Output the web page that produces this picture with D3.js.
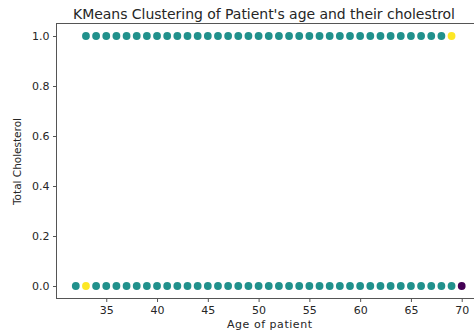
<!DOCTYPE html>
<html><head><meta charset="utf-8">
<script src="https://cdn.jsdelivr.net/npm/d3@7"></script>
<style>body{margin:0;background:#fff}svg{display:block}text{font-family:"DejaVu Sans",sans-serif}</style>
</head><body><svg id="c" width="474" height="333"></svg>
<script>
// Data: ages with total cholesterol (0/1) and cluster label
const topAges = [33,34,35,36,37,38,39,40,41,42,43,44,45,46,47,48,49,50,51,52,53,54,55,56,57,58,59,60,61,62,63,64,65,66,67,68,69];
const topClusters = [1,1,1,1,1,1,1,1,1,1,1,1,1,1,1,1,1,1,1,1,1,1,1,1,1,1,1,1,1,1,1,1,1,1,1,1,2];
const bottomAges = [32,33,34,35,36,37,38,39,40,41,42,43,44,45,46,47,48,49,50,51,52,53,54,55,56,57,58,59,60,61,62,63,64,65,66,67,68,69,70];
const bottomClusters = [1,2,1,1,1,1,1,1,1,1,1,1,1,1,1,1,1,1,1,1,1,1,1,1,1,1,1,1,1,1,1,1,1,1,1,1,1,1,0];
const xTicks = [35,40,45,50,55,60,65,70];
const yTicks = [0.0,0.2,0.4,0.6,0.8,1.0];
const clusterColors = ["#440154","#21918c","#fde725"];

const points = [];
topAges.forEach((a,i)=>points.push({age:a, chol:1, c:topClusters[i]}));
bottomAges.forEach((a,i)=>points.push({age:a, chol:0, c:bottomClusters[i]}));

const svg = d3.select("#c");
const L=56.5, R=481, T=23.5, B=298.5;
const x = d3.scaleLinear().domain([30.1,71.9]).range([L,R]);
const y = d3.scaleLinear().domain([-0.05,1.05]).range([B,T]);
const col = d3.scaleOrdinal().domain([0,1,2]).range(clusterColors);

svg.append("g").selectAll("circle").data(points).join("circle")
  .attr("cx",d=>x(d.age)).attr("cy",d=>y(d.chol)).attr("r",3.9)
  .attr("fill",d=>col(d.c));

const spine="#555";
svg.append("rect").attr("x",L).attr("y",T).attr("width",R-L).attr("height",B-T)
  .attr("fill","none").attr("stroke",spine).attr("stroke-width",1);

const xa = svg.append("g").attr("transform",`translate(0,${B})`)
  .call(d3.axisBottom(x).tickValues(xTicks).tickSize(3.5).tickPadding(4.5).tickFormat(d3.format("d")));
const ya = svg.append("g").attr("transform",`translate(${L},0)`)
  .call(d3.axisLeft(y).tickValues(yTicks).tickSize(3.5).tickPadding(3.5).tickFormat(d3.format(".1f")));
[xa,ya].forEach(g=>{
  g.select(".domain").remove();
  g.selectAll("line").attr("stroke",spine);
  g.selectAll("text").attr("font-size",11).attr("fill","#262626").attr("font-family","DejaVu Sans");
});

svg.append("text").attr("x",269.5).attr("y",328).attr("text-anchor","middle")
  .attr("font-size",11).attr("fill","#262626")
  .attr("textLength",85).attr("lengthAdjust","spacing").text("Age of patient");
svg.append("text").attr("transform",`translate(21,161.5) rotate(-90)`).attr("text-anchor","middle")
  .attr("font-size",10.5).attr("fill","#262626")
  .attr("textLength",87).attr("lengthAdjust","spacing").text("Total Cholesterol");
svg.append("text").attr("x",264).attr("y",18.5).attr("text-anchor","middle")
  .attr("font-size",14).attr("fill","#262626")
  .attr("textLength",382).attr("lengthAdjust","spacing")
  .text("KMeans Clustering of Patient's age and their cholestrol");
</script></body></html>
